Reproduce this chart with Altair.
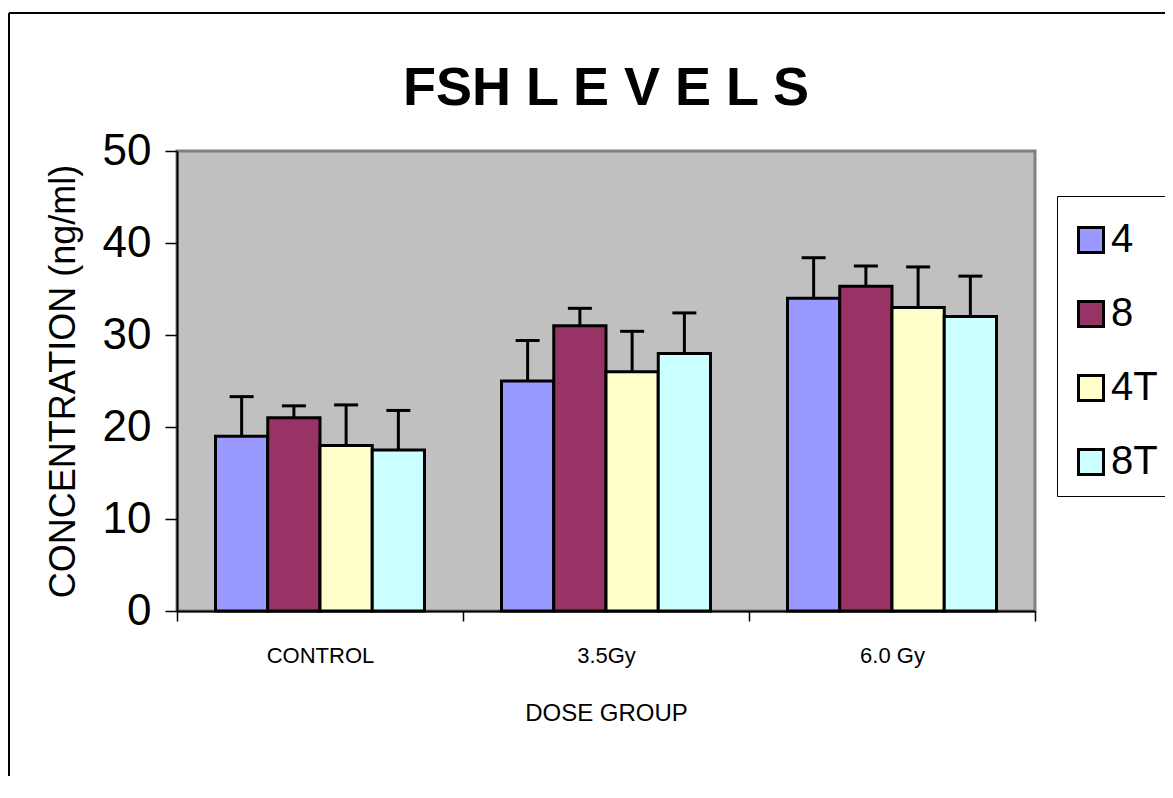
import altair as alt
import pandas as pd

groups = ["CONTROL", "3.5Gy", "6.0 Gy"]
series = ["4", "8", "4T", "8T"]
colors = ["#9999FF", "#993366", "#FFFFCC", "#CCFFFF"]

mean_4 = [19.0, 25.0, 34.0]
mean_8 = [21.0, 31.0, 35.3]
mean_4T = [18.0, 26.0, 33.0]
mean_8T = [17.5, 28.0, 32.0]

err_4 = [4.3, 4.4, 4.4]
err_8 = [1.3, 1.9, 2.2]
err_4T = [4.4, 4.4, 4.4]
err_8T = [4.3, 4.4, 4.4]

means = {"4": mean_4, "8": mean_8, "4T": mean_4T, "8T": mean_8T}
errs = {"4": err_4, "8": err_8, "4T": err_4T, "8T": err_8T}

rows = []
for s in series:
    for i, g in enumerate(groups):
        rows.append({"group": g, "series": s, "mean": means[s][i],
                     "upper": means[s][i] + errs[s][i]})
df = pd.DataFrame(rows)

FONT = "Liberation Sans"

x_enc = alt.X("group:N", sort=groups,
              scale=alt.Scale(paddingInner=0, paddingOuter=0),
              axis=alt.Axis(title="DOSE GROUP", labelAngle=0, tickBand="extent",
                            tickSize=10, tickColor="black", tickWidth=1.5,
                            domainColor="black", domainWidth=2,
                            labelFont=FONT, labelFontSize=22, labelColor="black",
                            labelPadding=24,
                            titleFont=FONT, titleFontSize=24, titleFontWeight="normal",
                            titleColor="black", titleY=102, titleBaseline="middle"))
xo_enc = alt.XOffset("series:N", sort=series,
                     scale=alt.Scale(paddingInner=0, paddingOuter=0.737))
y_scale = alt.Scale(domain=[0, 50], nice=False)
y_axis = alt.Axis(title="CONCENTRATION (ng/ml)", values=[0, 10, 20, 30, 40, 50],
                  grid=False, tickSize=12, tickColor="black", tickWidth=1.5,
                  domainColor="black", domainWidth=2,
                  labelFont=FONT, labelFontSize=44, labelColor="black", labelPadding=14,
                  titleFont=FONT, titleFontSize=36, titleFontWeight="normal",
                  titleColor="black", titleAngle=270, titleX=-114, titleY=230,
                  titleAlign="center", titleBaseline="middle")

base = alt.Chart(df)

rules = base.mark_rule(color="black", strokeWidth=3).encode(
    x=x_enc, xOffset=xo_enc,
    y=alt.Y("mean:Q", scale=y_scale, axis=y_axis), y2="upper:Q")

caps = base.mark_tick(color="black", thickness=3, size=24, opacity=1).encode(
    x=x_enc, xOffset=xo_enc, y=alt.Y("upper:Q", scale=y_scale))

bars = base.mark_bar(stroke="black", strokeWidth=3, opacity=1).encode(
    x=x_enc, xOffset=xo_enc,
    y=alt.Y("mean:Q", scale=y_scale, axis=y_axis),
    color=alt.Color("series:N", sort=series,
                    scale=alt.Scale(domain=series, range=colors),
                    legend=alt.Legend(title=" ", titleFontSize=10, titlePadding=0,
                                      orient="none", legendX=880, legendY=45,
                                      symbolType="square", symbolSize=625,
                                      symbolStrokeColor="black", symbolStrokeWidth=3,
                                      symbolOpacity=1,
                                      labelFont=FONT, labelFontSize=40, labelColor="black",
                                      labelOffset=0, rowPadding=34, padding=14,
                                      strokeColor="black", fillColor="white")))

one = pd.DataFrame({"a": [0]})
frame_left = alt.Chart(one).mark_rule(color="black", strokeWidth=2).encode(
    x=alt.value(-168), y=alt.value(-138), y2=alt.value(700))
frame_top = alt.Chart(one).mark_rule(color="black", strokeWidth=2).encode(
    x=alt.value(-168), x2=alt.value(1000), y=alt.value(-138))

chart = alt.layer(frame_left, frame_top, rules, caps, bars).properties(
    width=858, height=460,
    title=alt.TitleParams("FSH L E V E L S", font=FONT, fontSize=54, fontWeight="bold",
                          color="black", anchor="middle", frame="group",
                          baseline="bottom", offset=-158),
    autosize=alt.AutoSizeParams(type="none"),
    padding={"left": 169, "top": 143, "right": 130, "bottom": 165},
    background="white",
).configure_view(fill="#C0C0C0", stroke="#808080", strokeWidth=3)

chart.save("out.html", embed_options={"renderer": "svg", "actions": False})
